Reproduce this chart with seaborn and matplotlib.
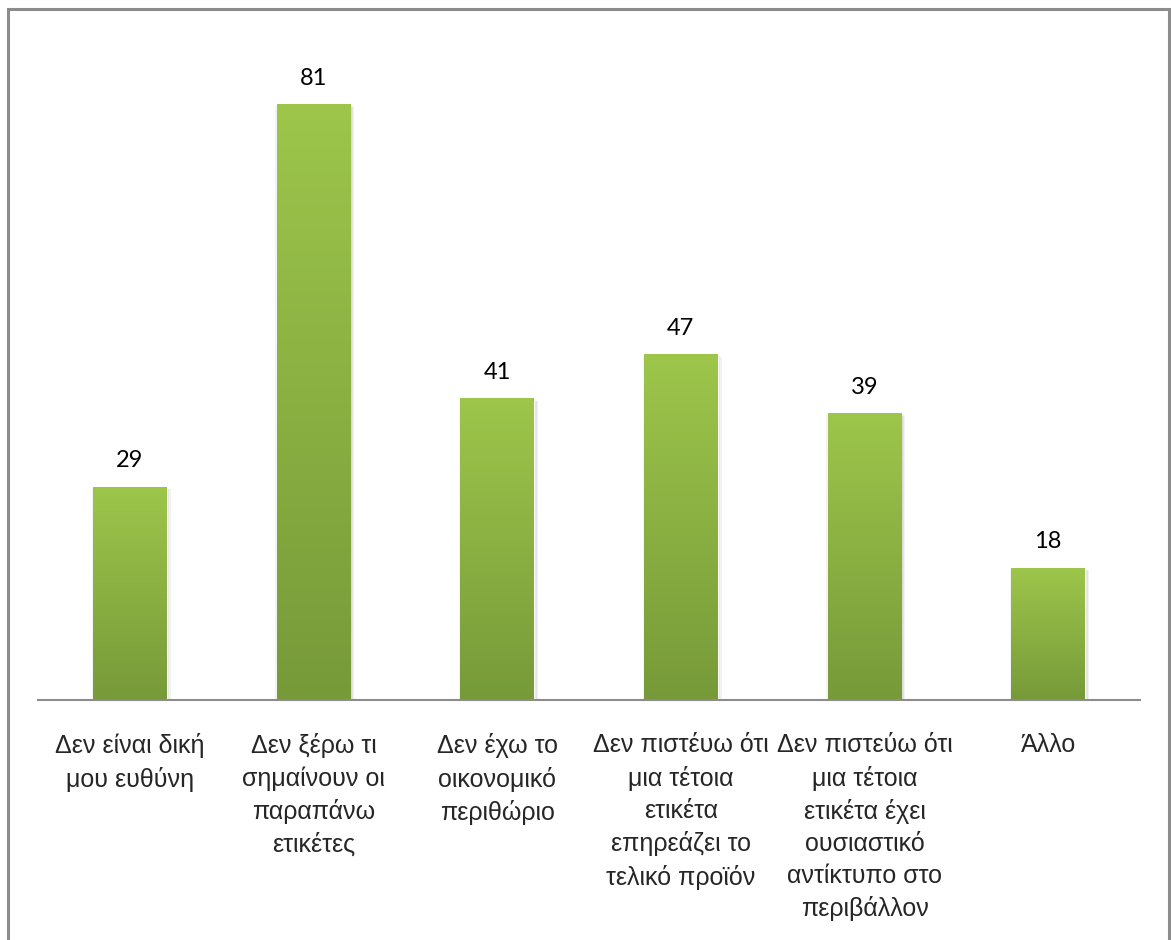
import numpy as np
import pandas as pd
import matplotlib
matplotlib.use("Agg")
import matplotlib.pyplot as plt
import matplotlib.patheffects as pe
from matplotlib.colors import LinearSegmentedColormap
from matplotlib.patches import Rectangle
import seaborn as sns

categories = [
    "Δεν είναι δική\nμου ευθύνη",
    "Δεν ξέρω τι\nσημαίνουν οι\nπαραπάνω\nετικέτες",
    "Δεν έχω το\nοικονομικό\nπεριθώριο",
    "Δεν πιστέυω ότι\nμια τέτοια\nετικέτα\nεπηρεάζει το\nτελικό προϊόν",
    "Δεν πιστεύω ότι\nμια τέτοια\nετικέτα έχει\nουσιαστικό\nαντίκτυπο στο\nπεριβάλλον",
    "Άλλο",
]
counts = [29, 81, 41, 47, 39, 18]

sns.set_theme(style="white")
plt.rcParams["font.family"] = ["Liberation Sans", "DejaVu Sans"]

df = pd.DataFrame({"reason": categories, "count": counts})

fig = plt.figure(figsize=(11.71, 9.40), dpi=100)
ax = fig.add_axes([38 / 1171, 240 / 940, 1102 / 1171, 662 / 940])

sns.barplot(data=df, x="reason", y="count", color="#8DB344", width=0.40,
            saturation=1, ax=ax, zorder=2)

ax.set_ylim(0, 90)
ax.set_xlim(-0.5, len(categories) - 0.5)

# vertical green gradient inside each bar, with a soft drop shadow
cmap = LinearSegmentedColormap.from_list("grn", ["#779A39", "#9DC64B"])
grad = np.linspace(0, 1, 256).reshape(-1, 1)
for bar, val in zip(ax.patches, counts):
    bar.set_path_effects([
        pe.SimplePatchShadow(offset=(3, -2), shadow_rgbFace="#000000", alpha=0.05),
        pe.SimplePatchShadow(offset=(2, -1.5), shadow_rgbFace="#000000", alpha=0.06),
        pe.SimplePatchShadow(offset=(1, -1), shadow_rgbFace="#000000", alpha=0.07),
        pe.SimplePatchShadow(offset=(-1, -1), shadow_rgbFace="#000000", alpha=0.05),
        pe.Normal(),
    ])
    x0, w = bar.get_x(), bar.get_width()
    h = bar.get_height()
    im = ax.imshow(grad, extent=(x0, x0 + w, 0, h), origin="lower", cmap=cmap,
                   aspect="auto", zorder=3, interpolation="bicubic")
    im.set_clip_path(bar)
    ax.annotate(f"{val}", xy=(x0 + w / 2, h), xytext=(0, 11), textcoords="offset points",
                ha="center", va="bottom", fontsize=17, color="#000000",
                family=["Lato", "DejaVu Sans"], zorder=4)

ax.set_aspect("auto")
ax.set_xlabel("")
ax.set_ylabel("")
ax.set_yticks([])
for side in ("top", "right", "left"):
    ax.spines[side].set_visible(False)
ax.spines["bottom"].set_color("#8C8C8C")
ax.spines["bottom"].set_linewidth(1.5)
ax.spines["bottom"].set_zorder(5)

ax.tick_params(axis="x", length=0, pad=24)
for lbl in ax.get_xticklabels():
    lbl.set_fontsize(18)
    lbl.set_linespacing(1.42)
    lbl.set_va("top")
    lbl.set_ha("center")
    lbl.set_multialignment("center")

# frame around the whole chart
fig.patches.append(Rectangle((8 / 1171, -0.05), 1161 / 1171, (931 / 940) + 0.05,
                             transform=fig.transFigure, fill=False,
                             edgecolor="#8C8C8C", linewidth=2.2))

fig.savefig("out.png", dpi=100, facecolor="white")
